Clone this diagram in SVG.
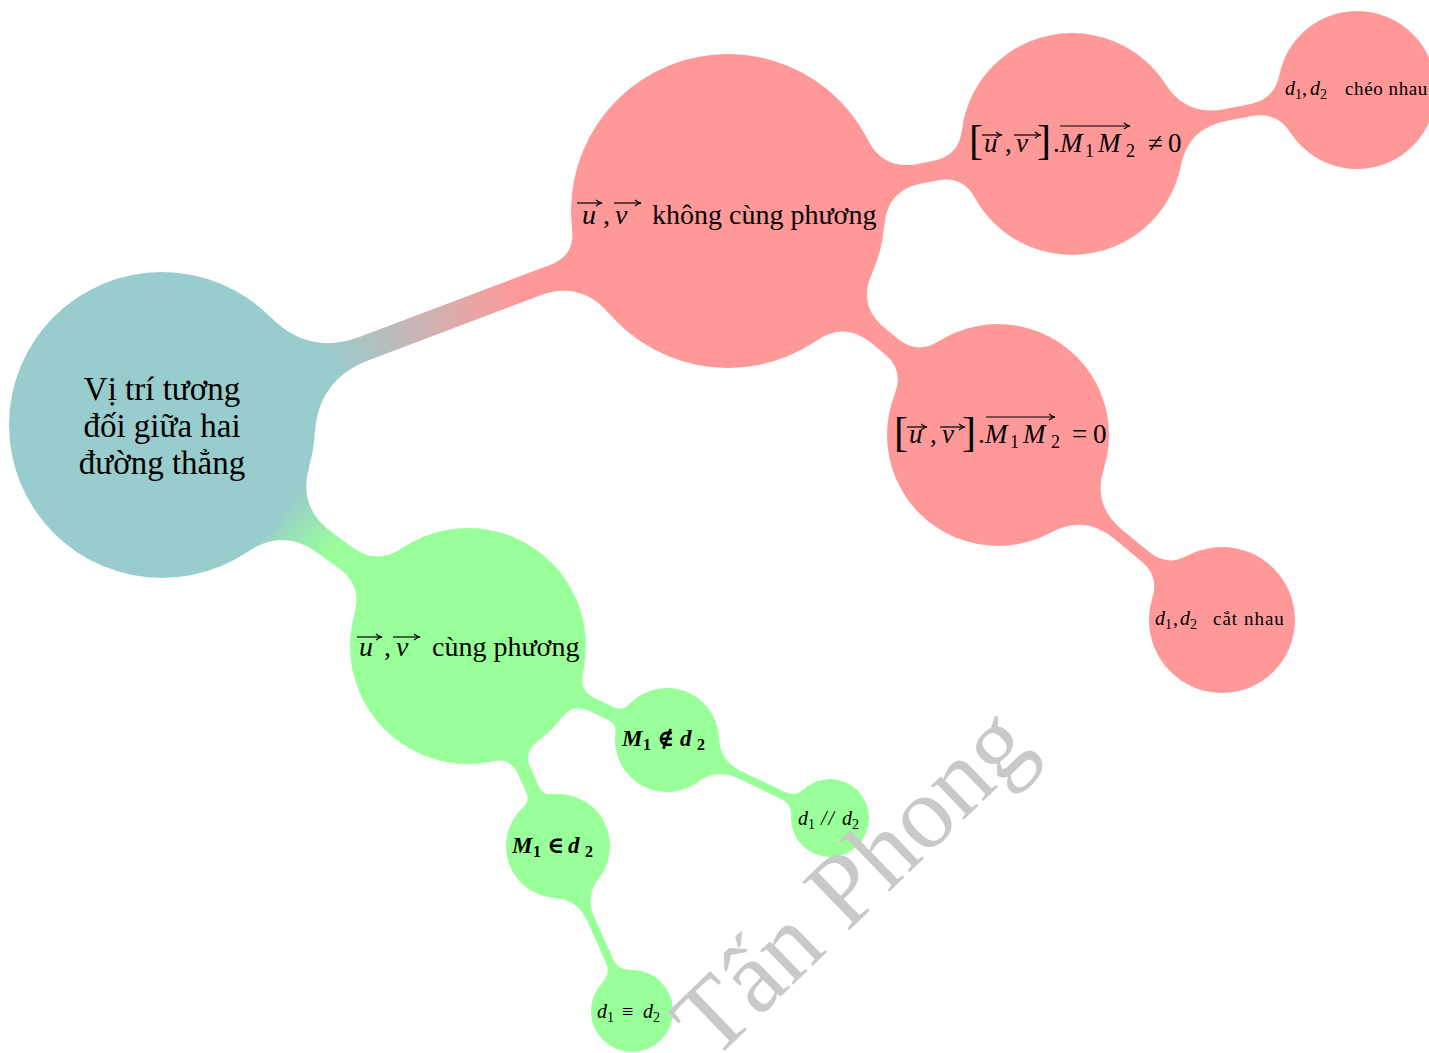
<svg xmlns="http://www.w3.org/2000/svg" width="1429" height="1053" viewBox="0 0 1429 1053">
<defs>
<style>
text{font-family:"Liberation Serif","DejaVu Serif",serif;fill:#000}
.i{font-style:italic}
.bi{font-style:italic;font-weight:bold}
.b{font-weight:bold}
.red{fill:#ff9999}
.grn{fill:#99ff99}
.teal{fill:#99cccc}
.vec{stroke:#000;stroke-width:1.2;fill:none;marker-end:url(#ah)}
.wm{fill:#c9c9c9;font-size:103px}
</style>
<marker id="ah" viewBox="0 0 8 8" refX="7" refY="4" markerWidth="8" markerHeight="8" markerUnits="userSpaceOnUse" orient="auto">
<path d="M1,1 Q4,3.5 7,4 Q4,4.5 1,7" fill="none" stroke="#000" stroke-width="1.1"/>
</marker>
<linearGradient id="g1" gradientUnits="userSpaceOnUse" x1="330" y1="362" x2="518" y2="292">
<stop offset="0" stop-color="#99cccc"/><stop offset="1" stop-color="#ff9999"/>
</linearGradient>
<linearGradient id="g2" gradientUnits="userSpaceOnUse" x1="288" y1="502" x2="336" y2="548">
<stop offset="0" stop-color="#99cccc"/><stop offset="1" stop-color="#99ff99"/>
</linearGradient>
</defs>
<rect width="1429" height="1053" fill="#ffffff"/>
<g id="connectors">
<path fill="url(#g1)" d="M270.77,317.37 Q309.02,356.05 359.91,336.81 L550.53,264.74 Q575.13,255.44 572.11,229.34 L728,211 L609.02,313.40 Q580.42,280.17 539.45,295.66 L368.75,360.19 Q317.86,379.43 314.77,433.73 L162,425 Z"/>
<path fill="url(#g2)" d="M309.20,466.79 Q297.65,507.56 332.03,532.38 L353.18,547.66 Q377.21,565.01 401.72,548.35 L468,646 L354.46,613.79 Q362.57,585.27 338.54,567.92 L317.39,552.64 Q283.01,527.82 247.96,551.59 L162,425 Z"/>
<path class="red" d="M867.87,139.67 Q883.59,170.50 917.56,163.88 L933.64,160.76 Q958.72,155.87 961.81,130.51 L1072,144 L974.93,197.85 Q962.54,175.51 937.46,180.40 L921.38,183.52 Q887.41,190.14 884.41,224.61 L728,211 Z"/>
<path class="red" d="M871.78,274.06 Q857.87,305.75 884.51,327.86 L897.41,338.54 Q917.07,354.86 938.65,341.19 L998,435 L894.85,393.99 Q904.30,370.26 884.64,353.94 L871.74,343.25 Q845.10,321.15 816.52,340.66 L728,211 Z"/>
<path class="red" d="M1165.38,83.99 Q1186.12,116.27 1223.82,109.13 L1249.55,104.26 Q1274.55,99.52 1279.52,74.57 L1357,90 L1290.54,132.71 Q1276.79,111.31 1251.79,116.05 L1226.06,120.92 Q1188.36,128.06 1180.86,165.69 L1072,144 Z"/>
<path class="red" d="M1103.83,468.48 Q1092.25,505.06 1121.83,529.49 L1149.24,552.12 Q1166.99,566.78 1187.23,555.81 L1222,620 L1152.39,597.99 Q1159.35,576.04 1141.60,561.38 L1114.19,538.75 Q1084.61,514.32 1050.87,532.60 L998,435 Z"/>
<path class="grn" d="M582.84,673.12 Q578.73,690.56 594.93,698.21 L613.99,707.22 Q622.61,711.29 629.14,704.35 L667,740 L615.42,733.41 Q616.63,723.95 608.01,719.88 L588.95,710.87 Q572.75,703.22 561.88,717.48 L468,646 Z"/>
<path class="grn" d="M537.74,741.18 Q523.28,751.78 530.63,768.12 L538.96,786.66 Q542.88,795.35 552.35,794.31 L558,846 L523.05,807.50 Q530.12,801.09 526.20,792.40 L517.87,773.86 Q510.52,757.52 493.00,761.32 L468,646 Z"/>
<path class="grn" d="M718.95,737.80 Q719.94,760.90 740.79,770.88 L784.93,791.99 Q795.24,796.93 803.69,789.21 L830,818 L791.07,815.57 Q791.78,804.15 781.47,799.21 L737.33,778.10 Q716.48,768.12 697.87,781.84 L667,740 Z"/>
<path class="grn" d="M599.06,877.90 Q584.88,896.16 594.34,917.26 L613.21,959.31 Q618.22,970.49 630.47,970.04 L632,1011 L602.43,982.61 Q610.92,973.77 605.91,962.59 L587.04,920.54 Q577.58,899.44 554.52,897.88 L558,846 Z"/>
</g>
<g id="root">
<circle class="teal" cx="162" cy="425" r="153"/>
<text font-size="33" text-anchor="middle"><tspan x="162" y="400">Vị trí tương</tspan><tspan x="162" y="437">đối giữa hai</tspan><tspan x="162" y="474">đường thẳng</tspan></text>
</g>
<g id="n-khong-cung-phuong">
<circle class="red" cx="728" cy="211" r="157"/>
<text font-size="28"><tspan class="i" x="582" y="224">u</tspan><tspan x="603" y="224">,</tspan><tspan class="i" x="615" y="224">v</tspan><tspan x="652" y="224">không cùng phương</tspan></text>
<line class="vec" x1="577" y1="203" x2="602" y2="203"/>
<line class="vec" x1="614" y1="203" x2="641" y2="203"/>
</g>
<g id="n-tich-khac-0">
<circle class="red" cx="1072" cy="144" r="111"/>
<text font-size="27"><tspan x="969" y="154" font-size="42">[</tspan><tspan class="i" x="984" y="152">u</tspan><tspan x="1005" y="152">,</tspan><tspan class="i" x="1016" y="152">v</tspan><tspan x="1037" y="154" font-size="42">]</tspan><tspan x="1053" y="152">.</tspan><tspan class="i" x="1060" y="152">M</tspan><tspan x="1085" y="157" font-size="18">1</tspan><tspan class="i" x="1098" y="152">M</tspan><tspan x="1126" y="157" font-size="18">2</tspan><tspan x="1148" y="152">≠</tspan><tspan x="1168" y="152">0</tspan></text>
<line class="vec" x1="982" y1="135" x2="1002" y2="135"/>
<line class="vec" x1="1014" y1="135" x2="1041" y2="135"/>
<line class="vec" x1="1060" y1="126" x2="1130" y2="126"/>
</g>
<g id="n-cheo-nhau">
<circle class="red" cx="1357" cy="90" r="79"/>
<text font-size="20"><tspan class="i" x="1285" y="95">d</tspan><tspan x="1295" y="99" font-size="14">1</tspan><tspan x="1302" y="95">,</tspan><tspan class="i" x="1310" y="95">d</tspan><tspan x="1320" y="99" font-size="14">2</tspan><tspan x="1345" y="95" font-size="19" letter-spacing="0.6">chéo nhau</tspan></text>
</g>
<g id="n-tich-bang-0">
<circle class="red" cx="998" cy="435" r="111"/>
<text font-size="27"><tspan x="894" y="446" font-size="42">[</tspan><tspan class="i" x="909" y="443">u</tspan><tspan x="930" y="443">,</tspan><tspan class="i" x="942" y="443">v</tspan><tspan x="962" y="446" font-size="42">]</tspan><tspan x="978" y="443">.</tspan><tspan class="i" x="985" y="443">M</tspan><tspan x="1010" y="448" font-size="18">1</tspan><tspan class="i" x="1023" y="443">M</tspan><tspan x="1051" y="448" font-size="18">2</tspan><tspan x="1072" y="443">=</tspan><tspan x="1093" y="443">0</tspan></text>
<line class="vec" x1="907" y1="427" x2="927" y2="427"/>
<line class="vec" x1="940" y1="427" x2="965" y2="427"/>
<line class="vec" x1="986" y1="417" x2="1055" y2="417"/>
</g>
<g id="n-cat-nhau">
<circle class="red" cx="1222" cy="620" r="73"/>
<text font-size="20"><tspan class="i" x="1155" y="625">d</tspan><tspan x="1165" y="629" font-size="14">1</tspan><tspan x="1173" y="625">,</tspan><tspan class="i" x="1180" y="625">d</tspan><tspan x="1190" y="629" font-size="14">2</tspan><tspan x="1213" y="625" font-size="19" letter-spacing="1">cắt nhau</tspan></text>
</g>
<g id="n-cung-phuong">
<circle class="grn" cx="468" cy="646" r="118"/>
<text font-size="28"><tspan class="i" x="359" y="656">u</tspan><tspan x="384" y="656">,</tspan><tspan class="i" x="396" y="656">v</tspan><tspan x="432" y="656">cùng phương</tspan></text>
<line class="vec" x1="357" y1="637" x2="382" y2="637"/>
<line class="vec" x1="393" y1="637" x2="420" y2="637"/>
</g>
<g id="n-m1-khong-thuoc">
<circle class="grn" cx="667" cy="740" r="52"/>
<text font-size="23"><tspan class="bi" x="622" y="746">M</tspan><tspan class="b" x="643" y="750" font-size="16">1</tspan><tspan class="b" x="657" y="746">∉</tspan><tspan class="bi" x="680" y="746">d</tspan><tspan class="b" x="697" y="750" font-size="16">2</tspan></text>
</g>
<g id="n-song-song">
<circle class="grn" cx="830" cy="818" r="39"/>
<text font-size="20"><tspan class="i" x="798" y="825">d</tspan><tspan x="808" y="829" font-size="14">1</tspan><tspan class="i" x="821" y="825" letter-spacing="2">//</tspan><tspan class="i" x="842" y="825">d</tspan><tspan x="852" y="829" font-size="14">2</tspan></text>
</g>
<g id="n-m1-thuoc">
<circle class="grn" cx="558" cy="846" r="52"/>
<text font-size="23"><tspan class="bi" x="512" y="853">M</tspan><tspan class="b" x="533" y="857" font-size="16">1</tspan><tspan class="b" x="547" y="853">∈</tspan><tspan class="bi" x="568" y="853">d</tspan><tspan class="b" x="585" y="857" font-size="16">2</tspan></text>
</g>
<g id="n-trung-nhau">
<circle class="grn" cx="632" cy="1011" r="41"/>
<text font-size="20"><tspan class="i" x="597" y="1018">d</tspan><tspan x="607" y="1022" font-size="14">1</tspan><tspan x="622" y="1018">≡</tspan><tspan class="i" x="643" y="1018">d</tspan><tspan x="653" y="1022" font-size="14">2</tspan></text>
</g>
<text class="wm" transform="translate(713,1062) rotate(-44)">Tấn Phong</text>
</svg>
